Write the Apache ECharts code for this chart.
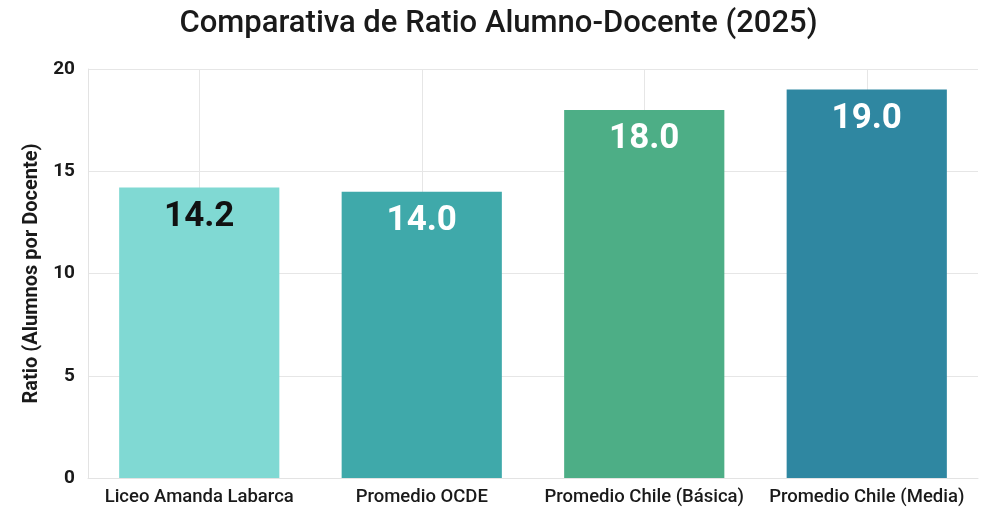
<!DOCTYPE html>
<html><head><meta charset="utf-8">
<script src="https://cdn.jsdelivr.net/npm/echarts@6/dist/echarts.min.js"></script>
<style>html,body{margin:0;padding:0;background:#fff}#c{width:997px;height:512px}</style>
</head><body><div id="c"></div>
<script>
const categories = ['Liceo Amanda Labarca', 'Promedio OCDE', 'Promedio Chile (Básica)', 'Promedio Chile (Media)'];
const ratios = [14.2, 14.0, 18.0, 19.0];
const barColors = ['#80d9d3', '#3fa9aa', '#4dae86', '#2f87a1'];
const labelColors = ['#111111', '#ffffff', '#ffffff', '#ffffff'];
const yTicks = [0, 5, 10, 15, 20];

const chart = echarts.init(document.getElementById('c'));
const font = 'Roboto, "Noto Sans", sans-serif';
chart.setOption({
  animation: false,
  backgroundColor: '#ffffff',
  title: {
    text: 'Comparativa de Ratio Alumno-Docente (2025)',
    left: 'center', top: 4,
    textStyle: { fontFamily: font, fontSize: 31, fontWeight: 500, color: '#1a1a1a' }
  },
  grid: { left: 88, right: 19, top: 69, bottom: 34 },
  xAxis: {
    type: 'category',
    data: categories,
    axisLine: { show: true, lineStyle: { color: '#e3e3e3' } },
    axisTick: { show: false },
    axisLabel: { interval: 0, fontFamily: font, fontSize: 18.5, fontWeight: 500, color: '#1a1a1a', margin: 10 },
    splitLine: { show: true, interval: 0, alignWithLabel: true, lineStyle: { color: '#e6e6e6' } }
  },
  yAxis: {
    type: 'value',
    min: yTicks[0], max: yTicks[yTicks.length - 1], interval: 5,
    name: 'Ratio (Alumnos por Docente)',
    nameLocation: 'middle', nameGap: 42, nameRotate: 90,
    nameTextStyle: { fontFamily: font, fontSize: 20, fontWeight: 'bold', color: '#1a1a1a' },
    axisLine: { show: true, lineStyle: { color: '#e3e3e3' } },
    axisTick: { show: false },
    axisLabel: { fontFamily: font, fontSize: 19, fontWeight: 'bold', color: '#1a1a1a', margin: 13 },
    splitLine: { show: true, lineStyle: { color: '#e6e6e6' } }
  },
  series: [{
    type: 'bar',
    barWidth: '72%',
    data: ratios.map((v, i) => ({
      value: v,
      itemStyle: { color: barColors[i] },
      label: { color: labelColors[i] }
    })),
    label: {
      show: true, position: 'insideTop', distance: 12,
      formatter: p => p.value.toFixed(1),
      fontFamily: font, fontSize: 35, fontWeight: 'bold'
    }
  }]
});
</script></body></html>
